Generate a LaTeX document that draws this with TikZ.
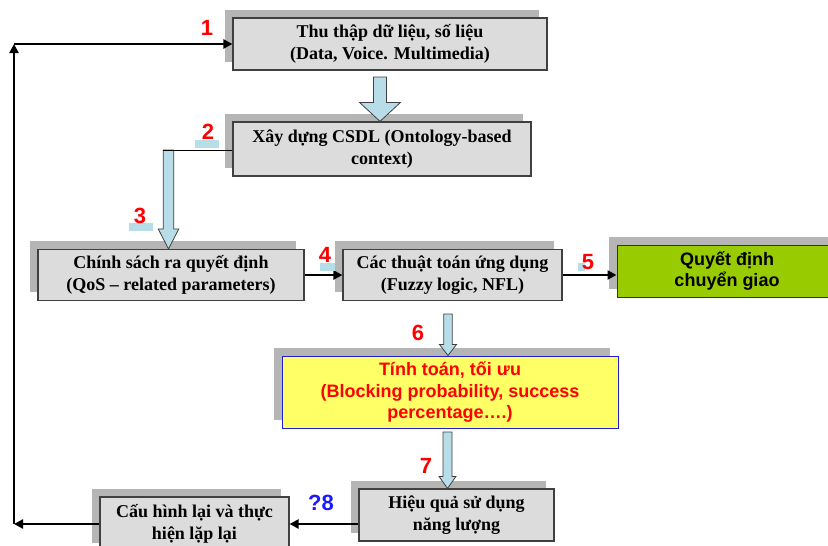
\documentclass[tikz,border=0pt]{standalone}
\usepackage{fontspec}
\setmainfont{Liberation Serif}
\newfontfamily\arialf{Liberation Sans}
\usetikzlibrary{shadows,calc,arrows.meta}
\definecolor{boxgray}{HTML}{DCDCDC}
\definecolor{shadowgray}{HTML}{B5B5B5}
\definecolor{arrowblue}{HTML}{B7DEE8}
\definecolor{edgegray}{HTML}{404040}
\definecolor{greenbox}{HTML}{99CC00}
\definecolor{yellowbox}{HTML}{FFFF66}
\definecolor{bordblue}{HTML}{1F1FCC}
\definecolor{numred}{HTML}{FF0000}
\definecolor{numblue}{HTML}{1A1AFF}
\tikzset{
  gbox/.style={draw=edgegray, line width=1.2pt, fill=boxgray, inner sep=0pt,
    align=center, font=\fontsize{18}{21.5}\selectfont\bfseries,
    general shadow={fill=shadowgray, shadow xshift=-8.5pt, shadow yshift=8.5pt}},
  cbox/.style={draw=bordblue, line width=1pt, inner sep=0pt, align=center,
    font=\arialf\fontsize{18}{21.5}\selectfont\bfseries,
    general shadow={fill=shadowgray, shadow xshift=-8.5pt, shadow yshift=8.5pt}},
  num/.style={text=numred, font=\arialf\fontsize{22}{22}\selectfont\bfseries, inner sep=0pt},
  tag/.style={fill=arrowblue, draw=none},
  conn/.style={line width=2.8pt, -{Triangle[length=9pt,width=9pt]}},
  barrow/.style={fill=arrowblue, draw=edgegray, line width=0.8pt, line join=miter},
}
\newcommand{\blockarr}[5]{% start, tip, head length, half shaft, half head
  \draw[barrow] ($(#1)+(-#4,0)$) -- ($(#2)+(-#4,-#3)$) -- ($(#2)+(-#5,-#3)$) -- (#2)
    -- ($(#2)+(#5,-#3)$) -- ($(#2)+(#4,-#3)$) -- ($(#1)+(#4,0)$) -- cycle;}
\begin{document}
\begin{tikzpicture}[x=1pt,y=-1pt]
\fill[white] (0,0) rectangle (828,546);
\useasboundingbox (0,0) rectangle (828,546);

% boxes
\node[gbox, minimum width=314pt, minimum height=52pt] (b1) at (390,44)
  {Thu thập dữ liệu, số liệu\\(Data, Voice. Multimedia)};
\node[gbox, minimum width=298pt, minimum height=54pt] (b2) at (382,149)
  {Xây dựng CSDL (Ontology-based\\context)};
\node[gbox, minimum width=266pt, minimum height=51pt] (b3) at (171,275)
  {Chính sách ra quyết định\\(QoS – related parameters)};
\node[gbox, minimum width=219pt, minimum height=51pt] (b4) at (452.5,275)
  {Các thuật toán ứng dụng\\(Fuzzy logic, NFL)};
\node[cbox, fill=greenbox, minimum width=220pt, minimum height=52pt] (b5) at (727,271)
  {Quyết định\\chuyển giao};
\node[cbox, fill=yellowbox, text=numred, minimum width=336pt, minimum height=72pt] (b6) at (450,392)
  {Tính toán, tối ưu\\(Blocking probability, success\\percentage….)};
\node[gbox, minimum width=195pt, minimum height=52pt] (b7) at (456.5,515)
  {Hiệu quả sử dụng\\năng lượng};
\node[gbox, minimum width=189pt, minimum height=54pt] (b8) at (194.5,524)
  {Cấu hình lại và thực\\hiện lặp lại};

% block arrows
\coordinate (a1s) at (380,77);
\coordinate (a1t) at (a1s |- b2.north);
\blockarr{a1s}{a1t}{19}{6.5}{20.5}
\coordinate (a2s) at (168.5,150);
\coordinate (a2t) at (a2s |- b3.north);
\blockarr{a2s}{a2t}{20}{5.3}{10.3}
\draw[line width=1pt] ($(a2s)+(-5.3,0)$) -- (b2.west |- a2s);
\coordinate (a3s) at (448,314);
\coordinate (a3t) at (a3s |- b6.north);
\blockarr{a3s}{a3t}{11}{4.2}{8.5}
\coordinate (a4s) at (447.5,432);
\coordinate (a4t) at (a4s |- b7.north);
\blockarr{a4s}{a4t}{12}{4.5}{8.5}

% connectors
\coordinate (c1) at (14,524);
\coordinate (c2) at (14,44);
\draw[conn] (b8.west) -- (c1);
\draw[conn] (c1) -- (c2);
\draw[conn] (c2) -- (b1.west);
\draw[conn] (b3.east) -- (b4.west);
\draw[conn] (b4.east) -- (b4.east -| b5.west);
\draw[conn] (b8.east -| b7.west) -- (b8.east);

% labels
\fill[tag] (195,140) rectangle (219,147.5);
\fill[tag] (129,223) rectangle (153,231);
\fill[tag] (320,263) rectangle (335,271);
\fill[tag] (578,263) rectangle (585,271);
\node[num] (n1) at (207,28) {1};
\node[num] (n2) at (208,132) {2};
\node[num] (n3) at (140,216) {3};
\node[num] (n4) at (325,255) {4};
\node[num] (n5) at (588,262) {5};
\node[num] (n6) at (418,333) {6};
\node[num] (n7) at (426,466) {7};
\node[num, text=numblue] (n8) at (321,503) {?8};
\end{tikzpicture}
\end{document}
